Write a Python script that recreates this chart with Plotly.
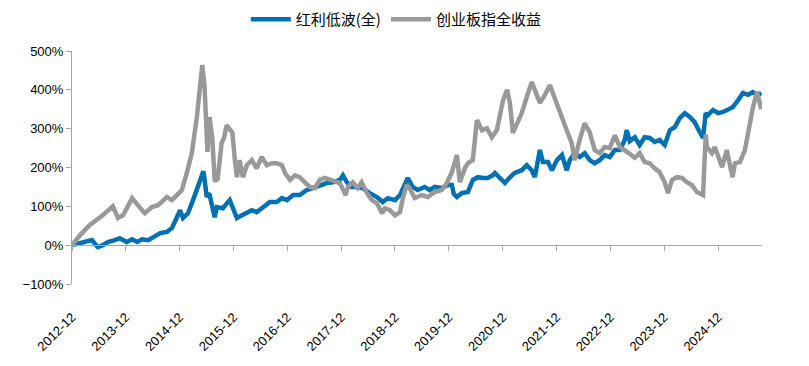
import plotly.graph_objects as go
import pandas as pd

series_names = ["红利低波(全)", "创业板指全收益"]

hl_dates = ["2012-12-31","2013-02-24","2013-04-05","2013-05-16","2013-06-01","2013-06-25","2013-07-28","2013-08-31",
"2013-10-17","2013-11-20","2014-01-06","2014-02-12","2014-03-18","2014-04-21","2014-06-01","2014-07-05","2014-08-22",
"2014-10-06","2014-11-09","2014-12-13","2015-01-03","2015-01-23","2015-02-26","2015-04-01","2015-05-06","2015-06-10",
"2015-06-15","2015-07-03","2015-07-20","2015-08-26","2015-09-10","2015-10-20","2015-12-06","2015-12-28","2016-01-24",
"2016-02-27","2016-03-31","2016-05-04","2016-06-06","2016-07-18","2016-09-03","2016-10-21","2016-11-24","2016-12-28",
"2017-02-08","2017-03-25","2017-05-12","2017-06-21","2017-08-08","2017-09-25","2017-11-05","2017-12-22","2018-01-12",
"2018-02-08","2018-03-12","2018-04-15","2018-05-27","2018-07-12","2018-08-31","2018-10-09","2018-11-12","2018-12-31",
"2019-02-03","2019-03-07","2019-03-28","2019-04-30","2019-06-03","2019-07-20","2019-08-23","2019-09-28","2019-11-14",
"2019-12-25","2020-01-21","2020-02-03","2020-02-24","2020-03-28","2020-05-09","2020-06-12","2020-07-15","2020-08-18",
"2020-09-21","2020-10-25","2020-11-08","2020-12-12","2021-01-15","2021-02-18","2021-03-22","2021-05-09","2021-06-12",
"2021-07-16","2021-08-06","2021-09-09","2021-09-30","2021-11-03","2021-11-30","2022-01-03","2022-02-06","2022-03-10",
"2022-03-31","2022-05-03","2022-06-06","2022-07-10","2022-08-13","2022-09-16","2022-10-20","2022-11-23","2022-12-27",
"2023-01-31","2023-03-05","2023-04-08","2023-04-21","2023-05-12","2023-06-15","2023-07-18","2023-08-21","2023-09-24",
"2023-10-28","2023-12-01","2024-01-04","2024-02-08","2024-03-12","2024-04-15","2024-05-19","2024-06-22","2024-07-25",
"2024-08-15","2024-09-20","2024-10-08","2024-10-24","2024-11-27","2024-12-31","2025-02-03","2025-03-06","2025-04-09",
"2025-05-15","2025-06-18","2025-07-21","2025-08-24","2025-09-27","2025-10-20"]
hl_values = [0,5,8,13,5,-5,0,8,
13,18,8,15,8,15,13,21,31,
34,44,72,90,70,82,116,150,190,
180,124,134,72,98,95,116,98,70,
77,85,90,85,98,111,111,121,116,
129,129,142,147,155,160,162,168,180,
162,150,150,147,134,124,111,121,116,
129,155,173,150,142,150,142,150,147,
155,155,132,124,134,137,168,175,173,
173,180,186,173,160,175,186,193,206,
193,175,245,214,214,193,219,232,193,
219,237,227,237,219,211,219,232,227,
245,245,271,296,268,278,258,278,276,
266,271,258,296,304,327,340,330,317,
301,276,340,335,348,340,343,348,355,
373,392,387,394,387,392]

cy_dates = ["2012-12-31","2013-02-24","2013-05-01","2013-05-21","2013-07-28","2013-10-04","2013-11-08","2013-12-12",
"2014-02-12","2014-03-22","2014-05-09","2014-06-25","2014-08-06","2014-10-06","2014-11-09","2014-12-13","2015-01-15",
"2015-02-18","2015-03-24","2015-04-27","2015-05-16","2015-06-03","2015-06-18","2015-07-08","2015-07-22","2015-08-10",
"2015-08-26","2015-09-15","2015-10-12","2015-10-28","2015-11-15","2015-12-06","2015-12-24","2016-01-10","2016-01-24",
"2016-02-12","2016-03-04","2016-03-31","2016-05-04","2016-06-06","2016-07-10","2016-08-14","2016-09-17","2016-10-21",
"2016-11-24","2016-12-15","2017-01-18","2017-02-21","2017-03-25","2017-04-28","2017-06-01","2017-07-05","2017-08-08",
"2017-09-11","2017-10-15","2017-11-18","2017-12-22","2018-01-30","2018-02-15","2018-03-19","2018-04-22","2018-05-19",
"2018-06-24","2018-07-27","2018-08-31","2018-10-04","2018-10-24","2018-11-27","2018-12-31","2019-02-03","2019-02-24",
"2019-03-21","2019-04-09","2019-05-14","2019-06-30","2019-08-11","2019-09-28","2019-11-14","2019-12-18","2020-01-21",
"2020-02-24","2020-03-15","2020-04-18","2020-05-09","2020-06-11","2020-07-09","2020-08-12","2020-09-15","2020-10-18",
"2020-11-21","2021-01-02","2021-01-30","2021-02-18","2021-03-10","2021-04-05","2021-05-09","2021-06-12","2021-07-16",
"2021-08-06","2021-09-09","2021-10-13","2021-11-16","2021-12-06","2022-01-09","2022-02-06","2022-03-10","2022-04-13",
"2022-05-03","2022-06-06","2022-07-10","2022-08-13","2022-09-16","2022-10-20","2022-11-23","2022-12-27","2023-01-31",
"2023-03-05","2023-04-08","2023-05-12","2023-06-15","2023-07-18","2023-08-21","2023-09-24","2023-10-28","2023-12-01",
"2024-01-04","2024-01-26","2024-02-22","2024-03-27","2024-04-30","2024-06-02","2024-07-06","2024-08-09","2024-09-20",
"2024-10-08","2024-10-16","2024-11-19","2024-12-09","2024-12-31","2025-01-27","2025-02-28","2025-03-20","2025-04-08",
"2025-04-25","2025-05-28","2025-07-01","2025-08-04","2025-08-25","2025-09-21","2025-10-05","2025-10-20"]
cy_values = [0,26,52,57,77,100,70,77,
121,103,82,98,103,124,116,129,142,
186,237,330,407,464,410,240,330,275,
165,170,263,276,309,301,290,219,175,
219,175,206,219,198,227,206,211,211,
206,186,168,180,175,162,150,147,168,
173,168,162,160,129,150,162,147,162,
134,116,108,82,95,90,77,85,124,
155,147,121,129,124,137,142,160,188,
232,162,198,211,219,322,296,301,278,
296,373,400,366,289,314,340,381,420,
400,366,387,412,392,356,322,296,263,
219,271,314,291,245,237,253,250,283,
253,245,235,225,237,214,211,198,188,
162,134,168,175,173,162,155,137,129,
285,253,237,253,227,201,245,201,175,
211,214,245,314,355,395,373,350]

tick_labels = ["2012-12","2013-12","2014-12","2015-12","2016-12","2017-12","2018-12",
               "2019-12","2020-12","2021-12","2022-12","2023-12","2024-12"]
y_ticks = [-100, 0, 100, 200, 300, 400, 500]

tick_pos = [(pd.to_datetime(t) + pd.offsets.MonthEnd(0)).strftime("%Y-%m-%d") for t in tick_labels]
y_tick_text = [("\u2212" if v < 0 else "") + f"{abs(v)}%" for v in y_ticks]
x_range = ["2012-12-31", "2025-10-25"]

BLUE = "#0070B0"
GRAY = "#999999"
AXIS = "#A6A6A6"
FONT = "Liberation Sans, Arial, sans-serif"

fig = go.Figure()
fig.add_trace(go.Scatter(x=hl_dates, y=hl_values, mode="lines", name=series_names[0],
                         line=dict(color=BLUE, width=4.5)))
fig.add_trace(go.Scatter(x=cy_dates, y=cy_values, mode="lines", name=series_names[1],
                         line=dict(color=GRAY, width=4.5)))
fig.add_trace(go.Scatter(x=[], y=[], xaxis="x2", showlegend=False, hoverinfo="skip"))

y_lo, y_hi = y_ticks[0], y_ticks[-1]
zero_pos = (0 - y_lo) / (y_hi - y_lo)

fig.update_layout(
    width=801, height=358,
    margin=dict(l=64, r=47, t=43, b=82, autoexpand=False),
    paper_bgcolor="white", plot_bgcolor="white",
    font=dict(family=FONT, size=13, color="#000000"),
    showlegend=True,
    legend=dict(orientation="h", x=0.47, xanchor="center", y=1.135, yanchor="middle",
                font=dict(family="Noto Sans CJK SC, sans-serif", size=15, color="#000000"),
                bgcolor="rgba(0,0,0,0)", itemwidth=40),
    xaxis=dict(type="date", range=x_range, tickvals=tick_pos, ticktext=tick_labels,
               tickangle=-45, showline=False, showgrid=False, zeroline=False, ticks="",
               ticklabelstandoff=22, tickfont=dict(family=FONT, size=13, color="#000000")),
    xaxis2=dict(type="date", range=x_range, overlaying="x", anchor="free", position=zero_pos,
                tickvals=tick_pos, showticklabels=False, ticks="outside", ticklen=5,
                tickcolor=AXIS, showline=True, linecolor=AXIS, linewidth=1,
                showgrid=False, zeroline=False),
    yaxis=dict(range=[y_lo, y_hi], tickvals=y_ticks, ticktext=y_tick_text, showline=True,
               linecolor=AXIS, linewidth=1, ticks="outside", ticklen=5, tickcolor=AXIS,
               showgrid=False, zeroline=False, tickfont=dict(family=FONT, size=13, color="#000000")),
)

fig.write_html("out.html")
